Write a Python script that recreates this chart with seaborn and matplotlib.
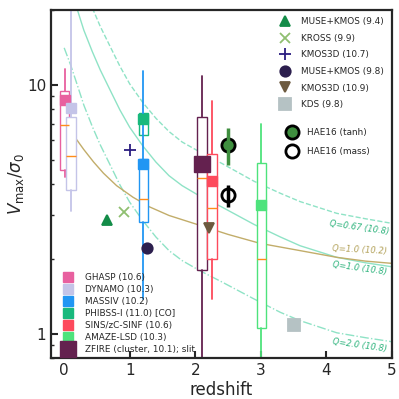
import matplotlib
matplotlib.use('Agg')
import matplotlib.pyplot as plt
from matplotlib.lines import Line2D
from matplotlib.ticker import FuncFormatter, NullFormatter, LogLocator
import seaborn as sns

# model curves (redshift, V/sigma)
z_q067 = [0.43, 0.55, 0.70, 0.85, 1.00, 1.20, 1.40, 1.60, 1.80, 2.06, 2.40, 2.90,
          3.30, 3.60, 4.16, 4.60, 5.00]
v_q067 = [20.4, 17.2, 14.3, 11.9, 10.1, 8.5, 7.35, 6.5, 5.9, 5.4, 4.85, 4.1,
          3.67, 3.4, 3.05, 2.9, 2.78]
z_q1 = [0.20, 0.30, 0.43, 0.55, 0.70, 0.85, 1.00, 1.20, 1.40, 1.60, 1.80, 2.06,
        2.40, 2.90, 3.30, 3.60, 4.16, 4.60, 5.00]
v_q1 = [20.1, 16.6, 13.6, 11.5, 9.55, 7.94, 6.76, 5.69, 4.90, 4.32, 3.94, 3.59,
        3.24, 2.75, 2.45, 2.26, 2.03, 1.93, 1.86]
z_q2 = [0.0, 0.10, 0.20, 0.30, 0.43, 0.55, 0.70, 0.85, 1.00, 1.20, 1.40, 1.60,
        1.80, 2.06, 2.40, 2.90, 3.30, 3.60, 4.16, 4.60, 5.00]
v_q2 = [14.1, 12.0, 10.0, 8.3, 6.8, 5.75, 4.78, 3.97, 3.38, 2.85, 2.45, 2.16,
        1.97, 1.80, 1.62, 1.38, 1.22, 1.13, 1.01, 0.965, 0.93]
z_q1_low = [0.03, 0.15, 0.30, 0.45, 0.60, 0.80, 1.05, 1.30, 1.60, 2.07, 2.50, 2.99,
            3.60, 4.16, 4.60, 5.00]
v_q1_low = [6.90, 6.24, 5.50, 4.90, 4.42, 3.94, 3.54, 3.24, 2.99, 2.73, 2.51, 2.31,
            2.16, 2.03, 1.96, 1.92]

# surveys shown as boxes
box_names = ['GHASP (10.6)', 'DYNAMO (10.3)', 'PHIBSS-I (11.0) [CO]', 'MASSIV (10.2)',
             'ZFIRE (cluster, 10.1); slit', 'SINS/zC-SINF (10.6)', 'AMAZE-LSD (10.3)']
box_colors = ['#e8609f', '#c4c4e8', '#19b97d', '#2196f3', '#64214f', '#fd4a5c', '#4ee37c']
box_z = [0.005, 0.107, 1.21, 1.21, 2.10, 2.26, 3.01]
box_whislo = [4.27, 3.13, 6.29, 1.38, 0.5, 1.38, 0.5]
box_q1 = [4.54, 3.77, 6.29, 2.81, 1.80, 1.99, 1.06]
box_med = [6.90, 5.17, 7.04, 3.49, 4.22, 3.20, 1.99]
box_q3 = [9.48, 7.41, 7.73, 5.02, 7.41, 5.30, 4.88]
box_whishi = [11.6, 40.0, 7.73, 11.4, 10.9, 8.62, 6.96]
box_square = [8.70, 8.08, 7.29, 4.80, 4.80, 4.10, 3.28]
legend_order = [0, 1, 3, 2, 5, 6, 4]

# single-point surveys
pt_names = ['MUSE+KMOS (9.4)', 'KROSS (9.9)', 'KMOS3D (10.7)', 'MUSE+KMOS (9.8)',
            'KMOS3D (10.9)', 'KDS (9.8)']
pt_z = [0.66, 0.915, 1.006, 1.26, 2.21, 3.51]
pt_v = [2.88, 3.08, 5.50, 2.21, 2.66, 1.09]
pt_markers = ['^', 'x', '+', 'o', 'v', 's']
pt_colors = ['#138c48', '#8fbf70', '#2b1d80', '#2c1f4e', '#6d5a3f', '#b5c2c4']
pt_sizes = [7.5, 7.5, 8, 7.5, 7.5, 8]

# HAE16
hae_names = ['HAE16 (tanh)', 'HAE16 (mass)']
hae_z = [2.495, 2.495]
hae_v = [5.73, 3.63]
hae_lo = [4.79, 3.23]
hae_hi = [6.70, 3.95]
hae_fill = ['#3f8f3f', 'white']
hae_bar = ['#3f8f3f', 'black']

sns.set_style('ticks', {'xtick.direction': 'in', 'ytick.direction': 'in'})

fig = plt.figure(figsize=(3.99, 3.99), dpi=100)
ax = fig.add_axes([0.128, 0.1028, 0.854, 0.872])
ax.set_yscale('log')

cyan = '#8fe3c6'
olive = '#c2ad6a'
sns.lineplot(x=z_q067, y=v_q067, ax=ax, color=cyan, lw=1.0, linestyle='--', zorder=1)
sns.lineplot(x=z_q1, y=v_q1, ax=ax, color=cyan, lw=1.0, zorder=1)
sns.lineplot(x=z_q2, y=v_q2, ax=ax, color=cyan, lw=1.0, linestyle='-.', zorder=1)
sns.lineplot(x=z_q1_low, y=v_q1_low, ax=ax, color=olive, lw=1.0, zorder=1)

txt_green = '#2db37c'
ax.text(4.51, 2.67, 'Q=0.67 (10.8)', color=txt_green, fontsize=6, style='italic',
        rotation=-8, ha='center', va='center')
ax.text(4.51, 2.18, 'Q=1.0 (10.2)', color='#b3a25a', fontsize=6, style='italic',
        rotation=-3, ha='center', va='center')
ax.text(4.51, 1.83, 'Q=1.0 (10.8)', color=txt_green, fontsize=6, style='italic',
        rotation=-8, ha='center', va='center')
ax.text(4.51, 0.90, 'Q=2.0 (10.8)', color=txt_green, fontsize=6, style='italic',
        rotation=-8, ha='center', va='center')

box_handles = {}
for i, name in enumerate(box_names):
    c = box_colors[i]
    stats = [dict(med=box_med[i], q1=box_q1[i], q3=box_q3[i],
                  whislo=box_whislo[i], whishi=box_whishi[i], fliers=[])]
    w = 0.16 if i == 4 else 0.15
    ax.bxp(stats, positions=[box_z[i]], widths=w, showcaps=False, showfliers=False,
           patch_artist=True, manage_ticks=False, zorder=2,
           boxprops=dict(facecolor='white', edgecolor=c, linewidth=1.0),
           whiskerprops=dict(color=c, linewidth=1.3),
           medianprops=dict(color='#ff8c1a', linewidth=1.0))
    ms = 11 if i == 4 else 7.5
    ax.plot([box_z[i]], [box_square[i]], marker='s', ms=ms, color=c, mec=c,
            ls='none', zorder=3)
    box_handles[i] = Line2D([], [], marker='s', ms=ms, color=c, ls='none')

pt_handles = []
for i, name in enumerate(pt_names):
    ax.plot([pt_z[i]], [pt_v[i]], marker=pt_markers[i], ms=pt_sizes[i], color=pt_colors[i],
            mew=1.3, ls='none', zorder=4)
    pt_handles.append(Line2D([], [], marker=pt_markers[i], ms=pt_sizes[i],
                             color=pt_colors[i], mew=1.3, ls='none'))

hae_handles = []
for i, name in enumerate(hae_names):
    ax.plot([hae_z[i]], [hae_v[i]], marker='o', ms=9.5, mfc=hae_fill[i], mec='black',
            mew=2.0, ls='none', zorder=5)
    ax.vlines(hae_z[i], hae_lo[i], hae_hi[i], color=hae_bar[i], lw=2.5, zorder=6)
    hae_handles.append(Line2D([], [], marker='o', ms=9.5, mfc=hae_fill[i], mec='black',
                              mew=2.0, ls='none'))

leg1 = ax.legend(pt_handles, pt_names, loc='upper left', bbox_to_anchor=(0.673, 0.979),
                 frameon=False, fontsize=6.4, handlelength=1.0, handletextpad=1.3,
                 labelspacing=0.85, borderpad=0, borderaxespad=0)
ax.add_artist(leg1)
leg2 = ax.legend(hae_handles, hae_names, loc='upper left', bbox_to_anchor=(0.693, 0.660),
                 frameon=False, fontsize=6.4, handlelength=1.0, handletextpad=1.25,
                 labelspacing=1.09, borderpad=0, borderaxespad=0)
ax.add_artist(leg2)
ax.legend([box_handles[i] for i in legend_order], [box_names[i] for i in legend_order],
          loc='lower left', bbox_to_anchor=(0.038, 0.012), frameon=False, fontsize=6.4,
          handlelength=1.0, handletextpad=1.38, labelspacing=0.33, borderpad=0,
          borderaxespad=0)

ax.set_xlim(-0.2, 5)
ax.set_ylim(0.8, 20.0)
ax.set_xticks(range(6))
ax.yaxis.set_major_locator(LogLocator(base=10))
ax.yaxis.set_major_formatter(FuncFormatter(lambda v, p: f'{v:g}'))
ax.yaxis.set_minor_formatter(NullFormatter())
ax.tick_params(which='major', direction='in', length=5, width=1.5, labelsize=11)
ax.tick_params(which='minor', direction='in', length=2.5, width=1.0)
for s in ax.spines.values():
    s.set_linewidth(1.6)
    s.set_visible(True)
ax.set_xlabel('redshift', fontsize=12, labelpad=2)
ax.set_ylabel(r'$V_{\rm max}/\sigma_0$', fontsize=12, labelpad=1)

fig.savefig('out.png', dpi=100)
